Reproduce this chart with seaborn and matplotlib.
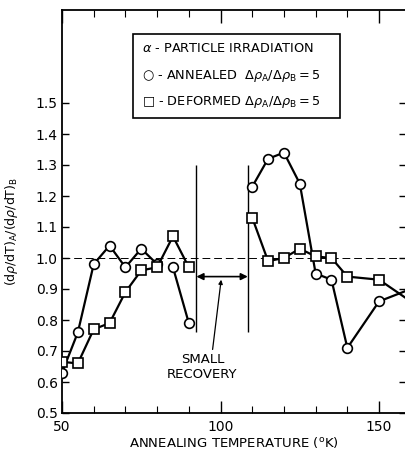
import numpy as np
import pandas as pd
import matplotlib
matplotlib.use("Agg")
import matplotlib.pyplot as plt
import seaborn as sns
from matplotlib.patches import Rectangle
from matplotlib.ticker import MultipleLocator, FixedLocator

# ---- data ----
annealed_T1 = [50, 55, 60, 65, 70, 75, 80]
annealed_v1 = [0.63, 0.76, 0.98, 1.04, 0.97, 1.03, 0.98]
annealed_T2 = [85, 90]
annealed_v2 = [0.97, 0.79]
annealed_T3 = [110, 115, 120, 125, 130, 135, 140, 150, 160]
annealed_v3 = [1.23, 1.32, 1.34, 1.24, 0.95, 0.93, 0.71, 0.86, 0.90]

deformed_T1 = [50, 55, 60, 65, 70, 75, 80, 85, 90]
deformed_v1 = [0.665, 0.66, 0.77, 0.79, 0.89, 0.96, 0.97, 1.07, 0.97]
deformed_T2 = [110, 115, 120, 125, 130, 135, 140, 150, 160]
deformed_v2 = [1.13, 0.99, 1.00, 1.03, 1.005, 1.00, 0.94, 0.93, 0.86]

x_ticks = [50, 100, 150]
y_ticks = [0.5, 0.6, 0.7, 0.8, 0.9, 1.0, 1.1, 1.2, 1.3, 1.4, 1.5]

rows = []
for seg, (T, v) in enumerate([(annealed_T1, annealed_v1), (annealed_T2, annealed_v2), (annealed_T3, annealed_v3)]):
    for t, val in zip(T, v):
        rows.append(dict(T=t, v=val, series="annealed", seg=f"a{seg}"))
for seg, (T, v) in enumerate([(deformed_T1, deformed_v1), (deformed_T2, deformed_v2)]):
    for t, val in zip(T, v):
        rows.append(dict(T=t, v=val, series="deformed", seg=f"d{seg}"))
df = pd.DataFrame(rows)

sns.set_theme(style="ticks")
plt.rcParams['font.family'] = ['DejaVu Sans']
plt.rcParams['mathtext.fontset'] = 'dejavusans'
for k in ['text.color', 'axes.labelcolor', 'xtick.color', 'ytick.color', 'axes.edgecolor']:
    plt.rcParams[k] = 'black'

fig = plt.figure(figsize=(4.06, 4.53), dpi=100)
ax = fig.add_axes([62/406, 40/453, 1 - 62/406, (413-10)/453])

sns.lineplot(data=df, x="T", y="v", style="series", units="seg", estimator=None,
             markers={"annealed": "o", "deformed": "s"}, dashes=False,
             color="black", linewidth=1.6, markersize=7,
             markerfacecolor="white", markeredgecolor="black", markeredgewidth=1.2,
             sort=False, legend=False, ax=ax, zorder=3)

ax.set_xlim(50, 158.5)
ax.set_ylim(0.5, 1.8)

# reference line at 1.0
ax.axhline(1.0, color="black", lw=0.7, ls=(0, (8, 4)), zorder=1)

# vertical lines bracketing the gap
ax.vlines([92.4, 108.6], 0.76, 1.30, color="black", lw=1.0, zorder=2)
ax.annotate("", xy=(92.4, 0.94), xytext=(108.6, 0.94),
            arrowprops=dict(arrowstyle="<|-|>", color="black", lw=1.2,
                            mutation_scale=10, shrinkA=0, shrinkB=0))
ax.annotate("", xy=(100.2, 0.93), xytext=(97.5, 0.705),
            arrowprops=dict(arrowstyle="-|>", color="black", lw=0.9,
                            mutation_scale=6, shrinkA=0, shrinkB=0))
ax.text(94.3, 0.671, "SMALL", ha="center", va="center", fontsize=9.5)
ax.text(94.3, 0.623, "RECOVERY", ha="center", va="center", fontsize=9.5)

# ticks
ax.xaxis.set_major_locator(FixedLocator(x_ticks))
ax.xaxis.set_minor_locator(MultipleLocator(10))
ax.yaxis.set_major_locator(FixedLocator(y_ticks))
ax.set_yticklabels([f"{t:.1f}" for t in y_ticks])
ax.tick_params(axis="x", which="major", direction="in", length=9, width=1, top=True, bottom=True,
               labelsize=10, pad=5)
ax.tick_params(axis="x", which="minor", direction="in", length=5, width=0.8, top=True, bottom=True)
ax.tick_params(axis="y", which="major", direction="in", length=5, width=1, left=True, right=True,
               labelsize=10, pad=3)
for s in ["left", "bottom", "top"]:
    ax.spines[s].set_linewidth(1.3)
    ax.spines[s].set_color("black")
ax.spines["right"].set_visible(False)

ax.set_xlabel(r"ANNEALING TEMPERATURE ($^{\mathrm{o}}$K)", fontsize=9.5, labelpad=1)
ax.set_ylabel(r"(d$\rho$/dT)$_\mathrm{A}$/(d$\rho$/dT)$_\mathrm{B}$", fontsize=9)
ax.yaxis.set_label_coords(-0.122, 0.45)

# legend box
bx0, bx1 = (133-62)/344, (340-62)/344
by0, by1 = (413-118)/403, (413-34)/403
ax.add_patch(Rectangle((bx0, by0), bx1-bx0, by1-by0, transform=ax.transAxes,
                       fill=False, edgecolor="black", lw=1.2, zorder=4))
lx = (142-62)/344
fs = 9.3
ax.text(lx, (413-49)/403, r"$\alpha$ - PARTICLE IRRADIATION", transform=ax.transAxes,
        fontsize=fs, va="center", ha="left")
ax.text(lx, (413-76)/403, "\u25cb - ANNEALED  $\\Delta\\rho_\\mathrm{A}/\\Delta\\rho_\\mathrm{B} = 5$",
        transform=ax.transAxes, fontsize=fs, va="center", ha="left")
ax.text(lx, (413-102)/403, "\u25a1 - DEFORMED $\\Delta\\rho_\\mathrm{A}/\\Delta\\rho_\\mathrm{B} = 5$",
        transform=ax.transAxes, fontsize=fs, va="center", ha="left")

fig.savefig("out.png", dpi=100)
